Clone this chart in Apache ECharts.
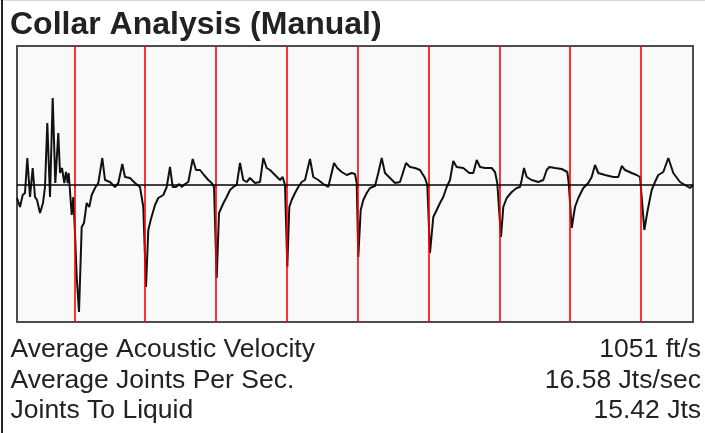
<!DOCTYPE html>
<html><head><meta charset="utf-8">
<script src="https://cdn.jsdelivr.net/npm/echarts@6/dist/echarts.min.js"></script>
<style>html,body{margin:0;padding:0;background:#fff}#c{width:705px;height:433px}</style>
</head><body><div id="c"></div>
<script>
const chartTitle = 'Collar Analysis (Manual)';
const sampleX = [0,3,5.7,8,10.3,13,15.7,18,20,23,26,28,30.3,33,35.7,38.3,41.3,43,45,47.3,49,50.7,51.7,54.7,56.3,58,59.7,62,64.7,67,69.7,72.3,74.7,78,81.3,85.3,88,93,98,101.3,105.3,108,113,118,123,126.3,129,131.3,133.7,138,141.3,146.3,149.7,153,155.7,159,162.3,164.7,168,171.3,175.7,179,183,187,191.3,194.7,197,199.7,202,204.7,207,209.7,213,216.3,219.7,223,226.3,229.7,233,238,243,246.3,249.7,253,258,263,265.7,268,270.3,272.3,274.7,278,281.3,284.7,288,293,296.3,301.3,306.3,311.3,313,317,320.3,324.7,329.7,334.7,338,339.7,341.3,343.7,346.3,349.7,353,358,361.3,364.7,368,373,378,383,389,393,398,403,408,410.3,413,416.3,419.7,423,426.3,429.7,433,436.3,439.7,446.3,448,452.3,456.3,459.7,463,468,474.7,478,480.3,482.3,484,486.3,489.7,494.7,499.7,503,504.7,507,509.7,514.7,521.3,526.3,529.7,532.3,538,544.7,550.3,551.7,554.7,558,561.3,566.3,571.3,574.7,578,581.3,588,596.3,601.3,604.7,608,614.7,619.7,623,624.7,627.3,630.7,634.7,638,641.3,646.3,651.3,656.3,663,668,673,676];
const amplitude = [-13,-22,-10,-8,27,-12,17,-12,-15,-28,-18,-2,62,-12,87,2,52,12,17,2,13,2,12,-30,-12,-48,-92,-127,-42,-38,-18,-22,-10,-3,2,27,5,3,-2,2,21,8,7,2,-2,-22,-102,-45,-35,-20,-13,-10,-2,18,-2,-2,1,-2,1,3,26,15,15,10,5,2,-2,-93,-28,-22,-17,-12,-5,-2,0,22,5,3,7,2,3,27,17,15,10,5,8,0,-82,-22,-15,-8,-2,3,5,26,8,5,1,-2,0,22,17,13,10,12,11,2,-72,-25,-15,-8,-3,-1,12,27,12,7,2,3,22,18,17,15,7,0,-68,-32,-25,-18,-12,-2,5,24,18,17,15,12,12,25,18,17,17,13,2,-28,-52,-22,-13,-7,-3,-2,5,17,8,5,3,5,15,18,17,16,13,2,-43,-22,-13,-3,2,8,20,12,10,8,8,19,15,12,10,8,-12,-45,-25,-5,3,10,13,27,12,3,0,-3,0];
const collarX = [57.7,128,199,269.7,340.3,411.7,482.3,553,623.7];
const infoLabels = ['Average Acoustic Velocity','Average Joints Per Sec.','Joints To Liquid'];
const infoValues = ['1051 ft/s','16.58 Jts/sec','15.42 Jts'];

const chart = echarts.init(document.getElementById('c'), null, {renderer:'canvas'});
const font = "'Liberation Sans', Arial, Helvetica, sans-serif";
const rowY = [349.3, 380.3, 410.3];
const graphics = [
  {type:'rect', shape:{x:0,y:0,width:705,height:1}, style:{fill:'#d8d8d8'}},
  {type:'rect', shape:{x:1,y:0,width:2,height:433}, style:{fill:'#222'}},
  {type:'text', x:10, y:25, style:{text:chartTitle, fill:'#222', font:"bold 32px " + font, verticalAlign:'middle', align:'left'}}
];
infoLabels.forEach((t,i)=>{
  graphics.push({type:'text', x:10.5, y:rowY[i], style:{text:t, fill:'#222', font:"26.5px " + font, verticalAlign:'middle', align:'left'}});
  graphics.push({type:'text', x:701, y:rowY[i], style:{text:infoValues[i], fill:'#222', font:"26.5px " + font, verticalAlign:'middle', align:'right'}});
});

chart.setOption({
  animation:false,
  backgroundColor:'#fff',
  grid:{left:17, top:46, width:676, height:276, show:true, backgroundColor:'#f9f9f9', borderColor:'#4d4d4d', borderWidth:2},
  xAxis:{type:'value', min:0, max:676, axisLine:{show:false}, splitLine:{show:false}, axisLabel:{show:false},
    axisTick:{show:true, customValues:collarX, length:3, lineStyle:{color:'#ff0000', width:1.6}}},
  yAxis:{type:'value', min:-137, max:139, axisLine:{show:false}, splitLine:{show:false}, axisLabel:{show:false}, axisTick:{show:false}},
  graphic:graphics,
  series:[
    {type:'line', data:[], z:1, silent:true,
      markLine:{silent:true, symbol:'none', label:{show:false},
        lineStyle:{color:'#ff0000', width:1.6, type:'solid'},
        data:collarX.map(v=>({xAxis:v}))}},
    {type:'line', data:sampleX.map((x,i)=>[x, amplitude[i]]), showSymbol:false, z:3, silent:true,
      lineStyle:{color:'#111', width:2},
      markLine:{silent:true, symbol:'none', label:{show:false},
        lineStyle:{color:'#000', width:1.5, type:'solid'},
        data:[{yAxis:0}]}}
  ]
});
</script></body></html>
